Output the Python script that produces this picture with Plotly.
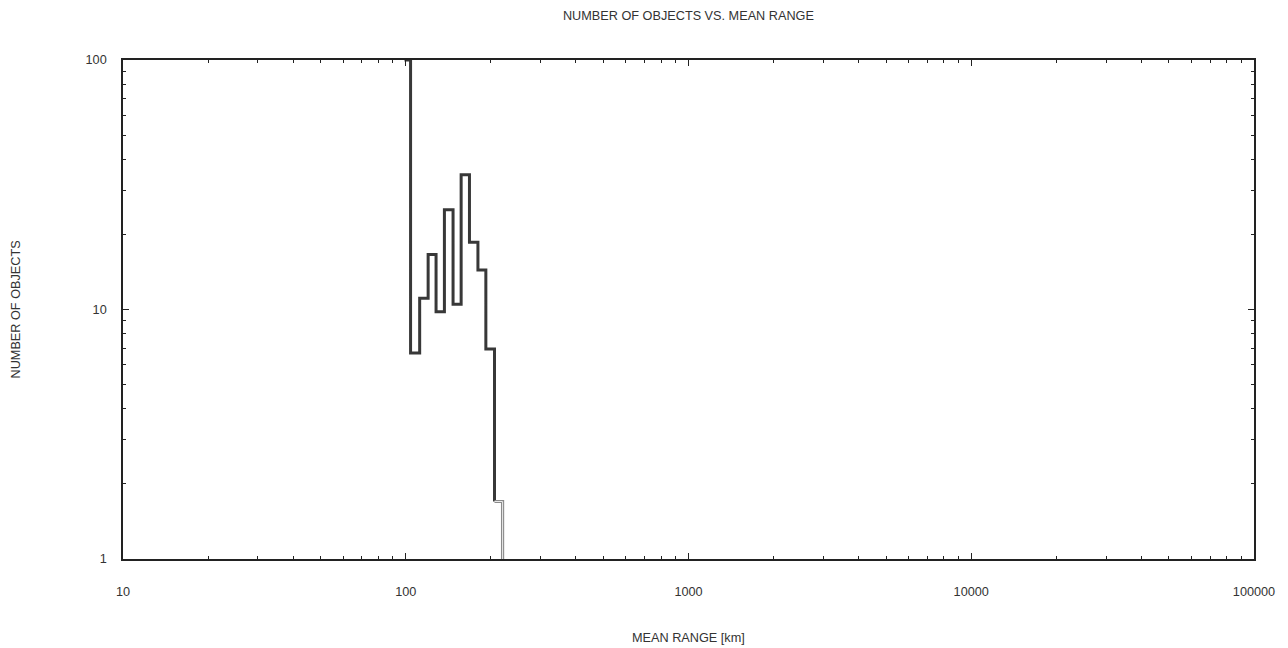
import plotly.graph_objects as go

# Histogram bin edges (km) and number of objects per bin
bin_edges = [99, 104, 112, 120, 128, 137, 147, 157, 168, 180, 192, 206, 220]
counts = [100, 6.7, 11.1, 16.6, 9.8, 25.1, 10.5, 34.7, 18.6, 14.4, 6.95, 1.70]

x_ticks = [10, 100, 1000, 10000, 100000]
x_tick_labels = ["10", "100", "1000", "10000", "100000"]
y_ticks = [1, 10, 100]
y_tick_labels = ["1", "10", "100"]

FONT = "Liberation Sans, Arial, sans-serif"
TXT = "#333333"
FS = 12.7

# main (dark) step line: all bins except the last one's plateau
dark_x = bin_edges[:-1]
dark_y = counts[:-1] + [counts[-1]]
# last bin drawn in grey double line
grey_x = [bin_edges[-2], bin_edges[-1], bin_edges[-1]]
grey_y = [counts[-1], counts[-1], y_ticks[0]]

fig = go.Figure()
fig.add_trace(go.Scatter(x=dark_x, y=dark_y, mode="lines", line_shape="hv",
                         line=dict(color="#383838", width=3), showlegend=False,
                         hoverinfo="skip"))
fig.add_trace(go.Scatter(x=grey_x, y=grey_y, mode="lines",
                         line=dict(color="#8a8a8a", width=3.2), showlegend=False,
                         hoverinfo="skip"))
fig.add_trace(go.Scatter(x=grey_x, y=grey_y, mode="lines",
                         line=dict(color="#e8e8e8", width=1), showlegend=False,
                         hoverinfo="skip"))

axis_common = dict(
    type="log", showgrid=False, zeroline=False,
    showline=True, linecolor="#222222", linewidth=1.5, mirror="allticks",
    ticks="inside", ticklen=6, tickwidth=1, tickcolor="#222222",
    tickfont=dict(family=FONT, size=FS, color=TXT),
    minor=dict(ticks="inside", ticklen=3, tickwidth=1, tickcolor="#222222",
               dtick="D1", showgrid=False),
)

fig.update_xaxes(range=[1, 5], tickvals=x_ticks, ticktext=x_tick_labels,
                 ticklabelstandoff=20, **axis_common)
fig.update_yaxes(range=[0, 2], tickvals=y_ticks, ticktext=y_tick_labels,
                 ticklabelstandoff=12, **axis_common)

fig.update_layout(
    template="none",
    width=1288, height=648,
    margin=dict(l=123, r=34, t=60, b=89),
    plot_bgcolor="white", paper_bgcolor="white",
    font=dict(family=FONT, size=FS, color=TXT),
    title=dict(text="NUMBER OF OBJECTS VS. MEAN RANGE", x=0.5345, xanchor="center",
               y=1 - 16 / 648, yanchor="middle",
               font=dict(family=FONT, size=FS, color=TXT)),
    annotations=[
        dict(text="MEAN RANGE [km]", xref="paper", yref="paper", x=0.5, y=0,
             xanchor="center", yanchor="middle", yshift=-79, showarrow=False,
             font=dict(family=FONT, size=FS, color=TXT)),
        dict(text="NUMBER OF OBJECTS", xref="paper", yref="paper", x=0, y=0.5,
             xanchor="center", yanchor="middle", xshift=-108, textangle=-90,
             showarrow=False, font=dict(family=FONT, size=FS, color=TXT)),
    ],
)

fig.write_html("out.html", config={"displayModeBar": False})
with open("out.html", "r", encoding="utf-8") as f:
    html = f.read()
html = html.replace("<body>", '<body style="margin:0;padding:0;overflow:hidden">', 1)
with open("out.html", "w", encoding="utf-8") as f:
    f.write(html)
